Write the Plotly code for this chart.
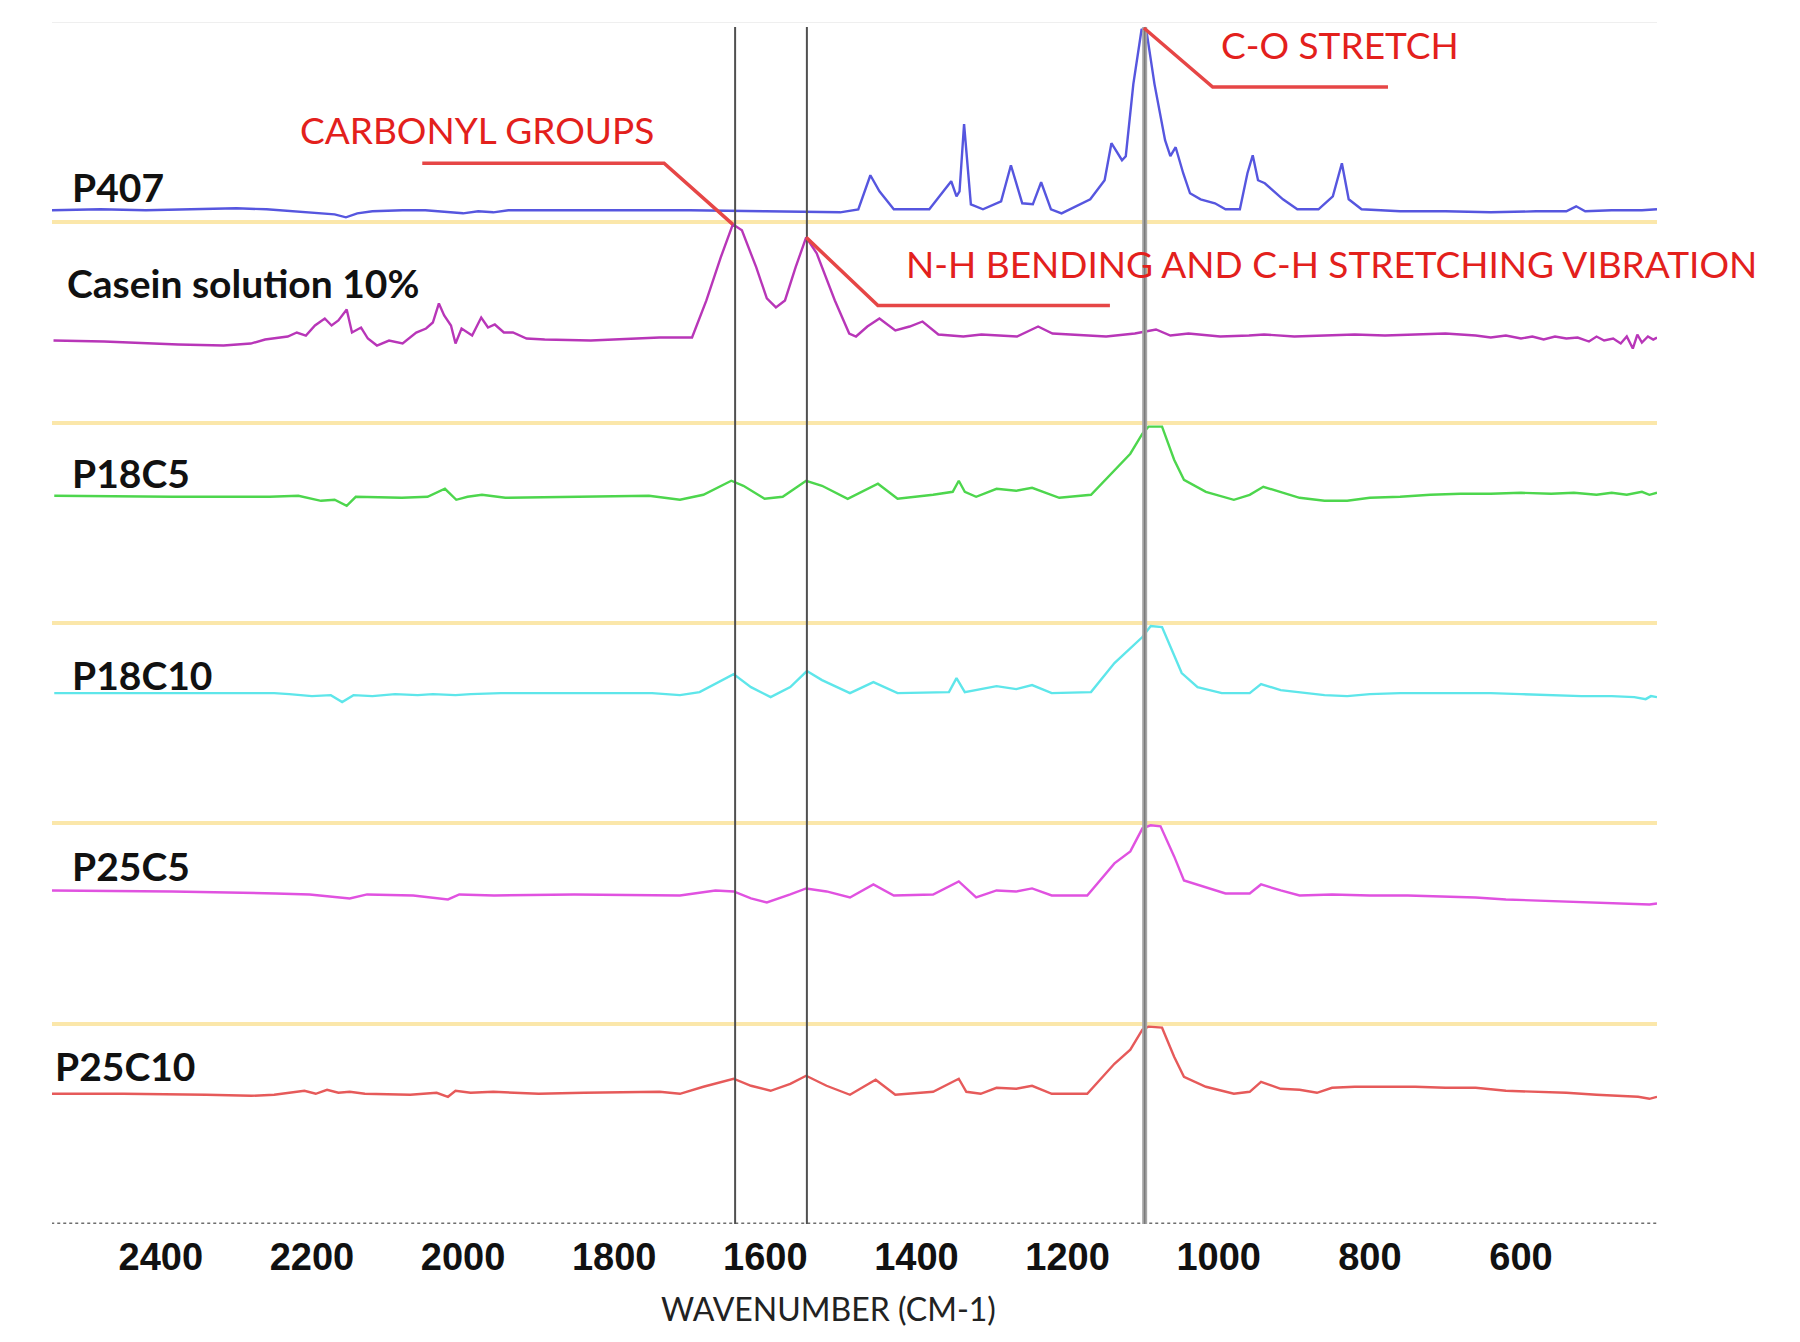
import plotly.graph_objects as go

# ---------------- data ----------------
P407_WN = [2544, 2480, 2420, 2360, 2300, 2260, 2220, 2190, 2170, 2155, 2140, 2120, 2080, 2050, 2020, 2000,
           1980, 1960, 1940, 1900, 1800, 1700, 1600, 1520, 1501, 1477, 1461, 1449, 1430, 1383, 1369, 1354,
           1347, 1343, 1337, 1328, 1312, 1288, 1275, 1260, 1246, 1235, 1222, 1208, 1170, 1151, 1142, 1128,
           1123, 1113, 1102, 1095, 1085, 1071, 1064, 1057, 1047, 1038, 1024, 1005, 991, 972, 962, 955,
           948, 939, 915, 896, 868, 849, 837, 828, 811, 760, 700, 640, 580, 540, 527, 515, 480, 440, 420]
P407_ABS = [10.12, 10.13, 10.12, 10.13, 10.14, 10.13, 10.11, 10.09, 10.08, 10.05, 10.09, 10.11, 10.12, 10.12, 10.10, 10.09,
            10.11, 10.10, 10.12, 10.12, 10.12, 10.12, 10.11, 10.10, 10.10, 10.13, 10.47, 10.31, 10.13, 10.13, 10.26, 10.41,
            10.26, 10.31, 10.98, 10.18, 10.13, 10.21, 10.57, 10.19, 10.18, 10.40, 10.13, 10.09, 10.23, 10.42, 10.79, 10.62,
            10.66, 11.38, 11.93, 11.88, 11.38, 10.82, 10.66, 10.75, 10.49, 10.29, 10.23, 10.19, 10.13, 10.13, 10.49, 10.67,
            10.42, 10.39, 10.23, 10.13, 10.13, 10.26, 10.59, 10.23, 10.13, 10.11, 10.11, 10.10, 10.11, 10.11, 10.16, 10.11, 10.12, 10.12, 10.13]

CASEIN_WN = [2542, 2475, 2377, 2317, 2281, 2262, 2232, 2220, 2208, 2196, 2183, 2174, 2165, 2154, 2147, 2135,
             2126, 2114, 2098, 2080, 2062, 2049, 2040, 2032, 2025, 2016, 2010, 2002, 1988, 1976, 1967, 1958,
             1946, 1934, 1916, 1892, 1831, 1740, 1697, 1678, 1659, 1643, 1631, 1612, 1598, 1586, 1574, 1560,
             1546, 1532, 1508, 1489, 1480, 1465, 1449, 1428, 1409, 1392, 1371, 1338, 1314, 1267, 1239, 1220,
             1149, 1111, 1083, 1064, 1040, 998, 960, 940, 900, 860, 820, 780, 740, 700, 660, 640, 620, 600,
             585, 570, 555, 540, 525, 510, 500, 490, 478, 468, 460, 452, 446, 440, 432, 425, 420]
CASEIN_ABS = [8.82, 8.81, 8.78, 8.77, 8.79, 8.83, 8.86, 8.90, 8.87, 8.97, 9.04, 8.97, 9.02, 9.13, 8.90, 8.95,
              8.84, 8.77, 8.82, 8.79, 8.90, 8.94, 9.00, 9.19, 9.07, 8.97, 8.79, 8.94, 8.87, 9.05, 8.95, 8.98,
              8.90, 8.90, 8.84, 8.83, 8.82, 8.85, 8.85, 9.22, 9.65, 9.98, 9.92, 9.55, 9.24, 9.15, 9.22, 9.55,
              9.85, 9.69, 9.22, 8.89, 8.86, 8.96, 9.04, 8.92, 8.96, 9.01, 8.88, 8.86, 8.88, 8.86, 8.96, 8.89,
              8.86, 8.89, 8.93, 8.87, 8.89, 8.86, 8.87, 8.88, 8.86, 8.87, 8.88, 8.87, 8.88, 8.89, 8.87, 8.85, 8.87, 8.84,
              8.86, 8.83, 8.86, 8.84, 8.85, 8.81, 8.86, 8.82, 8.84, 8.79, 8.86, 8.74, 8.88, 8.80, 8.86, 8.83, 8.85]

P18C5_WN = [2541, 2385, 2256, 2218, 2188, 2170, 2154, 2142, 2081, 2047, 2024, 2009, 1994, 1975, 1944, 1853,
            1754, 1713, 1682, 1645, 1629, 1601, 1577, 1546, 1525, 1491, 1451, 1425, 1378, 1352, 1344, 1336,
            1321, 1294, 1268, 1247, 1211, 1169, 1143, 1117, 1101, 1093, 1075, 1059, 1046, 1017, 980, 959,
            941, 918, 893, 860, 830, 800, 760, 720, 680, 640, 600, 560, 530, 500, 480, 460, 440, 430, 420]
P18C5_ABS = [7.27, 7.26, 7.26, 7.27, 7.22, 7.23, 7.17, 7.26, 7.25, 7.26, 7.34, 7.23, 7.26, 7.28, 7.25, 7.26,
             7.27, 7.23, 7.28, 7.42, 7.37, 7.24, 7.26, 7.42, 7.37, 7.24, 7.39, 7.24, 7.28, 7.31, 7.42, 7.31,
             7.26, 7.34, 7.32, 7.35, 7.25, 7.28, 7.49, 7.69, 7.89, 7.96, 7.96, 7.63, 7.43, 7.31, 7.23, 7.28,
             7.36, 7.31, 7.25, 7.22, 7.22, 7.25, 7.26, 7.28, 7.29, 7.29, 7.30, 7.29, 7.30, 7.28, 7.30, 7.28, 7.31, 7.28, 7.30]

P18C10_WN = [2541, 2380, 2250, 2230, 2200, 2175, 2160, 2145, 2120, 2090, 2060, 2040, 2010, 1990, 1950, 1850,
             1750, 1713, 1687, 1642, 1619, 1593, 1567, 1545, 1525, 1488, 1457, 1425, 1357, 1347, 1336, 1294,
             1268, 1247, 1221, 1169, 1138, 1101, 1090, 1075, 1062, 1049, 1028, 996, 959, 944, 918, 893,
             860, 830, 800, 760, 700, 640, 600, 560, 520, 480, 450, 435, 428, 420]
P18C10_ABS = [5.30, 5.30, 5.30, 5.29, 5.27, 5.28, 5.21, 5.28, 5.27, 5.29, 5.28, 5.29, 5.28, 5.29, 5.30, 5.30,
              5.30, 5.28, 5.31, 5.49, 5.36, 5.26, 5.36, 5.52, 5.43, 5.30, 5.41, 5.30, 5.31, 5.45, 5.31, 5.37,
              5.34, 5.38, 5.30, 5.31, 5.60, 5.86, 5.97, 5.96, 5.73, 5.50, 5.36, 5.30, 5.30, 5.39, 5.33, 5.31,
              5.28, 5.27, 5.29, 5.30, 5.30, 5.30, 5.29, 5.28, 5.27, 5.27, 5.26, 5.24, 5.27, 5.26]

P25C5_WN = [2545, 2385, 2248, 2203, 2150, 2127, 2066, 2020, 2005, 1959, 1853, 1713, 1666, 1642, 1619, 1598,
            1567, 1546, 1519, 1488, 1457, 1430, 1378, 1344, 1321, 1294, 1268, 1247, 1221, 1174, 1138, 1117,
            1101, 1090, 1077, 1059, 1046, 1017, 991, 959, 944, 918, 893, 850, 800, 750, 700, 660, 620, 580,
            540, 500, 460, 430, 420]
P25C5_ABS = [3.33, 3.32, 3.30, 3.29, 3.25, 3.29, 3.28, 3.24, 3.29, 3.28, 3.29, 3.28, 3.33, 3.32, 3.25, 3.21,
             3.29, 3.35, 3.32, 3.26, 3.39, 3.28, 3.29, 3.42, 3.26, 3.33, 3.32, 3.35, 3.28, 3.28, 3.60, 3.72,
             3.95, 3.98, 3.97, 3.67, 3.43, 3.36, 3.30, 3.30, 3.39, 3.33, 3.28, 3.29, 3.28, 3.28, 3.27, 3.26, 3.24, 3.23,
             3.22, 3.21, 3.20, 3.19, 3.20]

P25C10_WN = [2545, 2450, 2340, 2280, 2250, 2230, 2210, 2195, 2180, 2165, 2150, 2130, 2070, 2035, 2020, 2010,
             1990, 1960, 1900, 1840, 1780, 1740, 1713, 1682, 1642, 1619, 1593, 1567, 1546, 1519, 1488, 1454,
             1428, 1378, 1344, 1334, 1315, 1294, 1268, 1247, 1221, 1174, 1138, 1117, 1101, 1093, 1075, 1059,
             1046, 1017, 980, 959, 944, 918, 893, 870, 850, 820, 780, 740, 700, 660, 620, 580, 540, 500,
             470, 445, 430, 420]
P25C10_ABS = [1.30, 1.30, 1.29, 1.28, 1.29, 1.31, 1.33, 1.30, 1.34, 1.31, 1.32, 1.30, 1.29, 1.31, 1.27, 1.33,
              1.31, 1.32, 1.30, 1.31, 1.32, 1.32, 1.30, 1.37, 1.45, 1.38, 1.33, 1.40, 1.48, 1.38, 1.29, 1.44,
              1.29, 1.32, 1.45, 1.32, 1.30, 1.36, 1.35, 1.38, 1.30, 1.30, 1.60, 1.74, 1.94, 1.97, 1.96, 1.67,
              1.47, 1.37, 1.30, 1.32, 1.42, 1.35, 1.34, 1.31, 1.36, 1.37, 1.37, 1.37, 1.36, 1.36, 1.33, 1.32, 1.31, 1.29,
              1.28, 1.27, 1.25, 1.27]

SERIES_NAMES = ["P407", "Casein solution 10%", "P18C5", "P18C10", "P25C5", "P25C10"]
SERIES_WN = [P407_WN, CASEIN_WN, P18C5_WN, P18C10_WN, P25C5_WN, P25C10_WN]
SERIES_ABS = [P407_ABS, CASEIN_ABS, P18C5_ABS, P18C10_ABS, P25C5_ABS, P25C10_ABS]
SERIES_COLORS = ["#5656df", "#b836b8", "#4dd64d", "#5ee6ea", "#e052e0", "#e65a5a"]

X_TICKS = [2400, 2200, 2000, 1800, 1600, 1400, 1200, 1000, 800, 600]
X_TICK_LABELS = ["2400", "2200", "2000", "1800", "1600", "1400", "1200", "1000", "800", "600"]
MARKER_WN = [1640, 1545, 1098]   # reference vertical lines
X_TITLE = "WAVENUMBER (CM-1)"

ANNOT_TEXT = ["CARBONYL GROUPS", "C-O STRETCH", "N-H BENDING AND C-H STRETCHING VIBRATION"]

# ---------------- figure ----------------
fig = go.Figure()
for name, wn, ab, col in zip(SERIES_NAMES, SERIES_WN, SERIES_ABS, SERIES_COLORS):
    fig.add_trace(go.Scatter(x=wn, y=ab, mode="lines", name=name,
                             line=dict(color=col, width=2.4), showlegend=False, hoverinfo="skip"))

XMIN, XMAX = 2544, 420
shapes = []
# faint top line
shapes.append(dict(type="line", xref="paper", yref="y", x0=0, x1=1, y0=12, y1=12,
                   line=dict(color="#efefef", width=2), layer="below"))
# dotted axis baseline
shapes.append(dict(type="line", xref="x", yref="y", x0=XMAX + 1, x1=XMIN, y0=0, y1=0,
                   line=dict(color="#6e6e6e", width=3, dash="dot"), layer="above"))
# vertical reference lines
shapes.append(dict(type="line", xref="x", yref="y", x0=MARKER_WN[0], x1=MARKER_WN[0], y0=0, y1=11.95,
                   line=dict(color="#505050", width=2), layer="above"))
shapes.append(dict(type="line", xref="x", yref="y", x0=MARKER_WN[1], x1=MARKER_WN[1], y0=0, y1=11.95,
                   line=dict(color="#505050", width=2), layer="above"))
shapes.append(dict(type="line", xref="x", yref="y", x0=MARKER_WN[2], x1=MARKER_WN[2], y0=-0.12, y1=11.95,
                   line=dict(color="#a6a6a6", width=5), layer="above"))
shapes.append(dict(type="line", xref="x", yref="y", x0=MARKER_WN[2], x1=MARKER_WN[2], y0=-0.12, y1=11.95,
                   line=dict(color="#7a7a7a", width=1.5), layer="above"))
# red leader lines
RED_LINE = "#e64646"
for path in [[(2054, 10.59), (1734, 10.59), (1643, 9.98)],
             [(1099, 11.94), (1008, 11.35), (776, 11.35)],
             [(1546, 9.85), (1451, 9.17), (1144, 9.17)]]:
    d = "M {} {}".format(*path[0]) + "".join(" L {} {}".format(*p) for p in path[1:])
    shapes.append(dict(type="path", xref="x", yref="y", path=d,
                       line=dict(color=RED_LINE, width=3.5), layer="above"))

annotations = []
LABEL_POS = [(2520, 10.35), (2527, 9.39), (2520, 7.50), (2520, 5.48), (2520, 3.57), (2543, 1.58)]
for name, (lx, ly) in zip(SERIES_NAMES, LABEL_POS):
    annotations.append(dict(x=lx, y=ly, xref="x", yref="y", text=name, showarrow=False,
                            xanchor="left", yanchor="middle",
                            font=dict(family="Lato", size=39, color="#111111", weight="bold")))
RED_TEXT = "#e3201c"
for txt, (ax_, ay_) in zip(ANNOT_TEXT, [(1981, 10.93), (840, 11.78), (851, 9.59)]):
    annotations.append(dict(x=ax_, y=ay_, xref="x", yref="y", text=txt, showarrow=False,
                            xanchor="center", yanchor="middle",
                            font=dict(family="Lato", size=37, color=RED_TEXT)))
annotations.append(dict(x=0.484, y=-0.0707, xref="paper", yref="paper", text=X_TITLE, showarrow=False,
                        xanchor="center", yanchor="middle",
                        font=dict(family="Lato", size=32, color="#222222")))

# the page body has an 8px margin, so the figure is sized to sit inside the window
fig.update_layout(
    width=1792, height=1334,
    margin=dict(l=44, r=143, t=14, b=118),
    paper_bgcolor="white", plot_bgcolor="white",
    shapes=shapes, annotations=annotations,
    xaxis=dict(range=[XMIN, XMAX], tickvals=X_TICKS, ticktext=X_TICK_LABELS,
               showgrid=False, zeroline=False, showline=False, ticks="",
               ticklabelstandoff=7,
               tickfont=dict(family="Liberation Sans", size=38, color="#111111", weight="bold")),
    yaxis=dict(range=[0, 12], tickvals=[2, 4, 6, 8, 10], showticklabels=False,
               showgrid=True, gridcolor="#fbe7aa", gridwidth=4, zeroline=False, showline=False, ticks=""),
)

fig.write_html("out.html")
